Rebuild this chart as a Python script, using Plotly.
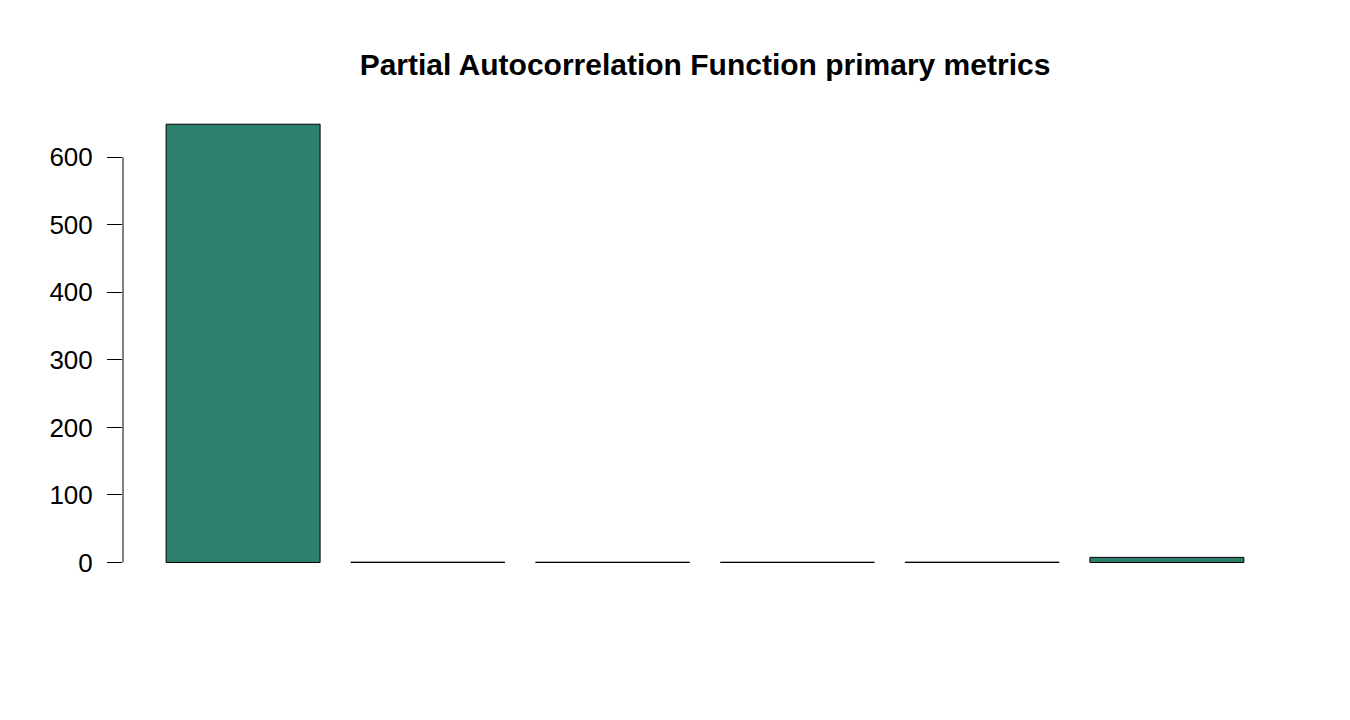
from plotly import graph_objs as go

# values
categories = ['1', '2', '3', '4', '5', '6']
values = [649, 0.4, 0.3, 0.3, 0.4, 7.5]
tick_vals = [0, 100, 200, 300, 400, 500, 600]
tick_text = [str(v) for v in tick_vals]

BAR_COLOR = '#2E806E'
FONT = 'Liberation Sans, Arial, sans-serif'

fig = go.Figure(data=[go.Bar(
    x=categories,
    y=values,
    marker_color=BAR_COLOR,
    marker_line_color='black',
    marker_line_width=1,
    hoverinfo='x+y',
)])

# the html page has an 8px body margin, so margins are shifted by that much
fig.update_layout(
    width=1350,
    height=720,
    plot_bgcolor='white',
    paper_bgcolor='white',
    showlegend=False,
    bargap=0.2 / 1.2,
    margin=dict(l=115, r=71, t=98, b=148),
    title=dict(
        text='<b>Partial Autocorrelation Function primary metrics</b>',
        x=0.5, xref='paper', xanchor='center',
        y=1 - 56 / 720, yref='container', yanchor='middle',
        font=dict(family=FONT, size=30, color='black'),
    ),
    xaxis=dict(
        range=[-0.65, 5.65],
        showticklabels=False,
        ticks='',
        showgrid=False,
        zeroline=False,
        showline=False,
    ),
    yaxis=dict(
        range=[-26, 676],
        tickmode='array',
        tickvals=tick_vals,
        ticktext=tick_text,
        ticks='outside',
        ticklen=15,
        tickwidth=1,
        tickcolor='black',
        ticklabelstandoff=9,
        tickfont=dict(family=FONT, size=26, color='black'),
        showgrid=False,
        zeroline=False,
        showline=False,
    ),
    # axis line only spans the tick range, like R's axis()
    shapes=[dict(
        type='line', xref='paper', yref='y',
        x0=0, x1=0, y0=tick_vals[0], y1=tick_vals[-1],
        line=dict(color='black', width=1),
    )],
)

fig.write_html('out.html')
